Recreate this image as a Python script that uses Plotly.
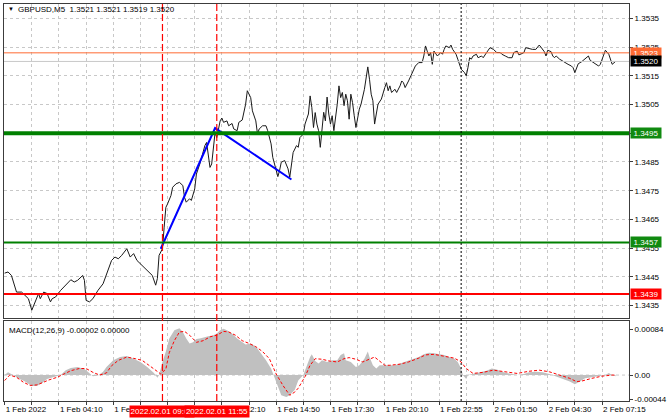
import plotly.graph_objects as go

# ---------------- data ----------------
bars = [0,2,4,6,7,10,12,14,16,18,20,21,23,25,27,28,30,33,36,39,41,43,46,47,48,50,52,55,58,60,63,65,67,69,72,74,76,78,81,84,87,89,90,91,93,
        94,95,96,98,99,101,103,105,106,107,109,110,112,113,115,116,118,119,120,121,122,123,124,125,126,127,128,129,131,132,134,135,137,138,140,
        142,143,145,146,148,149,150,152,154,155,157,158,160,161,162,163,165,166,167,168,169,170,172,173,174,176,177,179,180,181,182,183,184,185,
        186,187,188,189,190,191,192,193,194,196,197,198,199,200,201,202,203,204,205,206,207,209,210,212,214,215,216,217,218,219,220,222,223,224,
        225,226,227,228,230,231,233,234,235,236,238,240,242,244,246,247,248,249,250,251,252,253,254,255,257,258,259,260,262,263,264,266,267,268,
        269,271,272,273,274,275,276,278,279,281,282,284,285,286,288,290,292,293,295,297,299,300,302,303,304,306,307,308,310,311,313,314,315,316,
        318,319,320,322,323,324,325,327,328,330,332,334,335,336,337,338,340,341,343,344,345,347,348,350,351,353,354,356,357,358,360]
close = [1.34463,1.34467,1.34455,1.34421,1.34397,1.34397,1.34386,1.34374,1.34334,1.34363,1.34392,1.34374,1.34397,1.34392,1.34363,1.34374,
         1.34380,1.34403,1.34421,1.34440,1.34432,1.34438,1.34455,1.34438,1.34368,1.34363,1.34374,1.34403,1.34426,1.34461,1.34507,1.34519,
         1.34513,1.34525,1.34548,1.34519,1.34531,1.34507,1.34490,1.34473,1.34455,1.34421,1.34444,1.34525,1.34548,
         1.34623,1.34692,1.34704,1.34733,1.34762,1.34774,1.34779,1.34768,1.34727,1.34710,1.34722,1.34716,1.34756,1.34808,1.34843,1.34866,
         1.34907,1.34918,1.34878,1.34831,1.34843,1.34901,1.34953,1.34935,1.34970,1.34993,1.35003,1.34988,1.34993,1.34976,1.34984,1.34965,
         1.34959,1.34988,1.34996,1.35051,1.35098,1.35074,1.35028,1.34993,1.34947,1.34965,1.34976,1.34976,1.34959,1.34913,1.34866,1.34820,
         1.34799,1.34820,1.34849,1.34855,1.34843,1.34826,1.34797,1.34849,1.34883,1.34907,1.34901,1.34935,1.34947,1.34982,1.35017,1.35080,
         1.35040,1.34970,1.35022,1.34982,1.34959,1.34901,1.34965,1.35023,1.34993,1.35076,1.35017,1.34982,1.35011,1.34959,1.35051,1.35115,
         1.35074,1.35092,1.35046,1.35086,1.35063,1.34999,1.35086,1.35057,1.35011,1.34970,1.35034,1.35051,1.35103,1.35181,1.35138,1.35086,
         1.35063,1.34982,1.35017,1.35051,1.35069,1.35092,1.35109,1.35126,1.35098,1.35115,1.35092,1.35103,1.35092,1.35115,1.35132,1.35126,
         1.35109,1.35132,1.35161,1.35184,1.35196,1.35196,1.35219,1.35254,1.35236,1.35219,1.35231,1.35190,1.35236,1.35225,1.35219,1.35231,
         1.35225,1.35242,1.35254,1.35248,1.35257,1.35242,1.35225,1.35208,1.35190,1.35173,1.35161,1.35150,1.35178,1.35213,1.35208,1.35219,
         1.35225,1.35213,1.35219,1.35213,1.35231,1.35242,1.35248,1.35242,1.35231,1.35231,1.35225,1.35219,1.35213,1.35213,1.35231,1.35236,
         1.35223,1.35225,1.35231,1.35248,1.35246,1.35242,1.35242,1.35242,1.35248,1.35257,1.35250,1.35234,1.35219,1.35239,1.35234,1.35219,
         1.35213,1.35219,1.35208,1.35204,1.35199,1.35190,1.35184,1.35178,1.35161,1.35178,1.35192,1.35199,1.35204,1.35213,1.35219,1.35204,
         1.35196,1.35190,1.35184,1.35190,1.35219,1.35239,1.35225,1.35204,1.35190,1.35200]

trend_bar = [92, 124, 169]
trend_price = [1.34548, 1.34968, 1.34789]

macd_bar = [0,2,5,8,12,16,19,22,25,29,33,36,39,43,47,49,52,55,58,60,64,68,72,76,80,84,88,90,91,93,95,97,100,103,105,107,109,111,113,115,
            118,120,123,125,127,129,131,134,137,140,142,145,147,149,152,154,157,159,161,163,166,168,171,173,176,178,180,181,183,185,187,190,
            193,196,198,200,201,204,207,209,212,214,215,217,219,221,224,227,230,233,236,238,241,244,247,250,253,256,259,262,265,267,269,270,
            272,273,276,280,284,287,290,294,298,302,306,309,313,317,321,325,329,333,336,339,342,346,350,354,356,358,360]
macd_val = [0.0,0.00005,0.0,-0.00006,-0.00012,-0.0002,-0.0002,-0.00015,-0.00007,-0.00003,0.0,0.00009,0.00013,0.00015,0.00011,0.00006,
            -0.00002,-0.00001,0.00006,0.00015,0.00027,0.00033,0.00035,0.0003,0.00024,0.00015,0.00004,-0.00005,0.0,0.00024,0.00043,0.00067,
            0.00082,0.00086,0.00079,0.00067,0.00058,0.0006,0.00066,0.00067,0.0007,0.00071,0.00073,0.00076,0.00082,0.00085,0.00082,0.00076,
            0.00067,0.00061,0.00056,0.00058,0.00054,0.00048,0.00036,0.00027,0.00012,-0.00005,-0.00021,-0.00037,-0.0004,-0.00037,-0.00027,
            -0.0001,0.0,0.00018,0.00033,0.00038,0.00026,0.00021,0.00027,0.00024,0.00027,0.00027,0.00037,0.0004,0.00027,0.00024,0.00015,
            0.00018,0.0003,0.00043,0.00033,0.00018,0.00012,0.00018,0.00018,0.00018,0.00018,0.00021,0.00024,0.00027,0.0003,0.00033,0.00038,
            0.00041,0.0004,0.00039,0.00037,0.00033,0.0003,0.00024,0.00012,0.0,-0.00007,0.0,0.00002,0.00004,0.00008,0.00012,0.0001,0.00005,
            0.00002,0.0,0.00002,0.00005,0.00006,0.00005,0.00002,-0.00002,-0.00007,-0.00012,-0.00017,-0.00012,-0.00006,-0.00004,-0.00002,0.0,
            0.00004,0.0,-0.00002]

sig_bar = [0,3,7,11,15,19,23,26,31,35,39,44,48,52,56,60,63,67,72,77,81,85,89,92,95,97,100,103,106,109,113,117,121,125,129,132,136,140,144,
           148,152,156,160,164,168,171,173,177,180,183,187,191,196,200,203,207,211,215,218,224,227,233,238,244,248,253,259,265,269,272,276,
           282,288,294,302,309,315,321,327,333,337,340,346,352,358,360]
sig_val = [-0.0001,0.0,-0.00004,-0.00013,-0.00019,-0.00018,-0.00013,-0.00009,-0.00004,0.00002,0.00008,0.00012,0.00012,0.00005,0.0,0.00004,
           0.00017,0.00027,0.00033,0.0003,0.00027,0.00018,0.00008,0.00002,0.00011,0.00041,0.00063,0.00079,0.0008,0.00073,0.0006,0.00063,
           0.0007,0.00073,0.0008,0.00079,0.00073,0.00063,0.00058,0.00052,0.00043,0.0003,0.00002,-0.00019,-0.00037,-0.00031,-0.00024,-0.00003,
           0.00018,0.0003,0.00029,0.00026,0.00024,0.0003,0.00032,0.00029,0.00024,0.0003,0.00033,0.00018,0.00018,0.0002,0.00024,0.00031,
           0.00037,0.00038,0.00035,0.00031,0.00024,0.00012,0.00003,0.00005,0.00009,0.00006,0.00003,0.00007,0.00009,0.00006,0.0,-0.00006,
           -0.00012,-0.00011,-0.00006,-0.00002,0.0,0.0]

price_ticks = [1.3435,1.3445,1.3455,1.3465,1.3475,1.3485,1.3495,1.3505,1.3515,1.3525,1.3535]
price_tick_text = ["1.3435","1.3445","1.3455","1.3465","1.3475","1.3485","1.3495","1.3505","1.3515","1.3525","1.3535"]
macd_ticks = [0.00084, 0.0, -0.00044]
macd_tick_text = ["0.00084", "0.00", "-0.00044"]

time_tick_bar = [0,16,32,48,64,80,96,112,128,144,160,176,192,208,224,240,256,272,288,304,320,336,352,368]
time_tick_text = ["1 Feb 2022","","1 Feb 04:10","","1 Feb 06:50","","1 Feb 09:30","","1 Feb 12:10","","1 Feb 14:50","",
                  "1 Feb 17:30","","1 Feb 20:10","","1 Feb 22:55","","2 Feb 01:50","","2 Feb 04:30","","2 Feb 07:15",""]

levels = [1.3523, 1.3520, 1.3495, 1.3457, 1.3439]
level_text = ["1.3523", "1.3520", "1.3495", "1.3457", "1.3439"]
level_colors = ["#FF6A33", "#C8C8C8", "#008000", "#008000", "#FF0000"]
level_box = ["#FF6A33", "#000000", "#108A10", "#108A10", "#FF0000"]
level_widths = [1, 1, 4, 2, 2]

signal_bars = [93, 125]
signal_text = ["2022.02.01 09:00", "2022.02.01 11:55"]
day_sep_bar = 269

# ---------------- figure ----------------
FONT = "Liberation Sans, Arial, sans-serif"
GRID = "#C8C8C8"
FRAME = "#3C3C3C"
X_RANGE = [-0.38, 367.91]

fig = go.Figure()
fig.add_trace(go.Scatter(x=macd_bar, y=macd_val, xaxis="x2", yaxis="y2", mode="lines",
                         fill="tozeroy", fillcolor="#C0C0C0", line=dict(width=0, color="#C0C0C0"),
                         hoverinfo="skip", showlegend=False))
fig.add_trace(go.Scatter(x=sig_bar, y=sig_val, xaxis="x2", yaxis="y2", mode="lines",
                         line=dict(width=1, color="#FF0000", dash="3px,2px"), showlegend=False))
fig.add_trace(go.Scatter(x=bars, y=close, mode="lines", line=dict(width=1, color="#1A1A1A"), showlegend=False))
fig.add_trace(go.Scatter(x=trend_bar, y=trend_price, mode="lines", line=dict(width=2, color="#0000FF"), showlegend=False))

shapes = []
for p, c, w in zip(levels, level_colors, level_widths):
    shapes.append(dict(type="line", xref="x domain", x0=0, x1=1, yref="y", y0=p, y1=p,
                       line=dict(color=c, width=w)))
for b in signal_bars:
    shapes.append(dict(type="line", xref="x", x0=b, x1=b, yref="paper", y0=0, y1=1,
                       line=dict(color="#FF0000", width=1.2, dash="7px,3px")))
shapes.append(dict(type="line", xref="x", x0=day_sep_bar, x1=day_sep_bar, yref="paper", y0=0, y1=1,
                   line=dict(color="#000000", width=1, dash="2px,2px")))
shapes.append(dict(type="line", xref="x2 domain", x0=0, x1=1, yref="y2", y0=0, y1=0,
                   line=dict(color=GRID, width=1, dash="3px,3px"), layer="below"))

annotations = []
for p, t, bc in zip(levels, level_text, level_box):
    annotations.append(dict(xref="paper", x=1, xanchor="left", xshift=1, yref="y", y=p, yanchor="middle",
                            text=t, showarrow=False, bgcolor=bc, width=30, height=10, borderpad=0,
                            font=dict(family=FONT, size=8, color="#FFFFFF")))
for b, t in zip(signal_bars, signal_text):
    annotations.append(dict(xref="x2", x=b, xanchor="center", yref="paper", y=0, yanchor="top", yshift=-4,
                            text=t, showarrow=False, bgcolor="#FF0000", width=64, height=11, borderpad=0,
                            font=dict(family=FONT, size=8, color="#FFFFFF")))
annotations.append(dict(xref="paper", x=0, xanchor="left", xshift=2, yref="paper", y=1, yanchor="middle", yshift=-5,
                        text="▼", showarrow=False, font=dict(family=FONT, size=6, color="#000000")))
annotations.append(dict(xref="paper", x=0, xanchor="left", xshift=12, yref="paper", y=1, yanchor="middle", yshift=-5,
                        text="GBPUSD,M5  1.3521 1.3521 1.3519 1.3520", showarrow=False,
                        font=dict(family=FONT, size=8, color="#000000")))
annotations.append(dict(xref="paper", x=0, xanchor="left", xshift=3, yref="y2 domain", y=1, yanchor="middle", yshift=-9,
                        text="MACD(12,26,9) -0.00002 0.00000", showarrow=False,
                        font=dict(family=FONT, size=8, color="#000000")))

axis_common = dict(showline=True, mirror=True, linecolor=FRAME, linewidth=1, zeroline=False,
                   tickfont=dict(family=FONT, size=8, color="#000000"), tickcolor=FRAME)

fig.update_layout(
    width=670, height=419,
    margin=dict(l=3, r=34, t=3, b=18),
    paper_bgcolor="#FFFFFF", plot_bgcolor="#FFFFFF",
    showlegend=False,
    hovermode=False,
    xaxis=dict(domain=[0, 1], anchor="y", range=X_RANGE, tickvals=time_tick_bar, showticklabels=False,
               ticks="", showgrid=True, gridcolor=GRID, griddash="3px,3px", gridwidth=1, **axis_common),
    yaxis=dict(domain=[0.2085, 1], anchor="x", side="right", range=[1.34306, 1.35400],
               tickvals=price_ticks, ticktext=price_tick_text, ticks="outside", ticklen=3,
               showgrid=True, gridcolor=GRID, griddash="3px,3px", gridwidth=1, **axis_common),
    xaxis2=dict(domain=[0, 1], anchor="y2", range=X_RANGE, matches="x", tickvals=time_tick_bar,
                ticktext=time_tick_text, ticks="outside", ticklen=3, ticklabelposition="outside right",
                showgrid=True, gridcolor=GRID, griddash="3px,3px", gridwidth=1, **axis_common),
    yaxis2=dict(domain=[0, 0.201], anchor="x2", side="right", range=[-0.000475, 0.000987],
                tickvals=macd_ticks, ticktext=macd_tick_text, ticks="outside", ticklen=3,
                showgrid=False, **axis_common),
    shapes=shapes,
    annotations=annotations,
)

fig.write_html("out.html", config={"displayModeBar": False})

# remove the default page margin so the figure sits at the window's top-left corner
with open("out.html", "r", encoding="utf-8") as f:
    html = f.read()
html = html.replace("<head>", "<head><style>html,body{margin:0;padding:0;overflow:hidden;}</style>", 1)
with open("out.html", "w", encoding="utf-8") as f:
    f.write(html)
